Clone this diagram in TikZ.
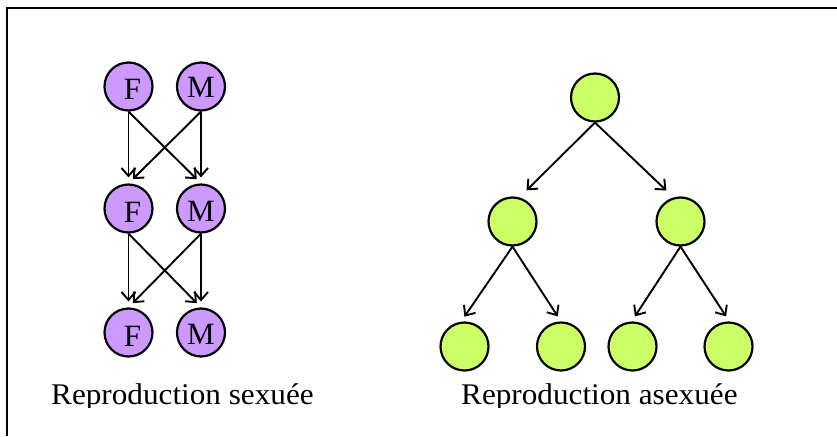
\documentclass[tikz,border=0pt]{standalone}
\usepackage{fontspec}
\setmainfont{Liberation Serif}
\usetikzlibrary{arrows.meta}
\definecolor{purp}{RGB}{204,153,255}
\definecolor{lime}{RGB}{204,255,102}
\tikzset{
  cell/.style={circle, draw=black, line width=2.2pt, minimum size=48pt, inner sep=0pt},
  sexcell/.style={cell, fill=purp},
  asexcell/.style={cell, fill=lime},
  letter/.style={font=\fontsize{31}{31}\selectfont},
  arr/.style={line width=1.9pt, -{Straight Barb[length=8pt,width=14pt,line width=1.9pt]}},
  caption/.style={anchor=base west, inner sep=0pt, font=\fontsize{30}{30}\selectfont}
}
\begin{document}
\begin{tikzpicture}[x=1pt,y=-1pt]
\useasboundingbox (0,0) rectangle (837,436);
% frame (top and left only)
\draw[line width=2.2pt] (7,436) -- (7,8) -- (837,8);

% sexual reproduction
\node[sexcell, label={[letter, shift={(4,3)}]center:F}] (f1) at (128.5,86.5) {};
\node[sexcell, label={[letter, shift={(0,1)}]center:M}] (m1) at (201,86.5) {};
\node[sexcell, label={[letter, shift={(4,4)}]center:F}] (f2) at (128.5,208.5) {};
\node[sexcell, label={[letter, shift={(0,3)}]center:M}] (m2) at (201,208.5) {};
\node[sexcell, label={[letter, shift={(4,4)}]center:F}] (f3) at (128.5,332.5) {};
\node[sexcell, label={[letter, shift={(0,2)}]center:M}] (m3) at (201,332.5) {};

\draw[arr, shorten >=6pt] (f1.south) -- (f2.north);
\draw[arr, shorten >=6pt] (f1.south) -- (m2.north);
\draw[arr, shorten >=6pt] (m1.south) -- (m2.north);
\draw[arr, shorten >=6pt] (m1.south) -- (f2.north);
\draw[arr, shorten >=6pt] (f2.south) -- (f3.north);
\draw[arr, shorten >=6pt] (f2.south) -- (m3.north);
\draw[arr, shorten >=6pt] (m2.south) -- (m3.north);
\draw[arr, shorten >=6pt] (m2.south) -- (f3.north);

% asexual reproduction
\node[asexcell] (r) at (595,97.5) {};
\node[asexcell] (a) at (512.5,221.5) {};
\node[asexcell] (b) at (680.5,221.5) {};
\node[asexcell] (c) at (464.5,346.5) {};
\node[asexcell] (d) at (561,346.5) {};
\node[asexcell] (e) at (632.5,346.5) {};
\node[asexcell] (g) at (728.5,346.5) {};

\draw[arr, shorten >=10pt] (r.south) -- (a.74);
\draw[arr, shorten >=10pt] (r.south) -- (b.106);
\draw[arr, shorten >=6pt] (a.south) -- (c.98);
\draw[arr, shorten >=6pt] (a.south) -- (d.north);
\draw[arr, shorten >=6pt] (b.south) -- (e.92);
\draw[arr, shorten >=6pt] (b.south) -- (g.88);

% captions (descenders clipped as in the original)
\begin{scope}
\clip (0,0) rectangle (837,407);
\node[caption] (t1) at (51,404) {\scalebox{1.04}[1]{Reproduction sexuée}};
\node[caption] (t2) at (461,404) {\scalebox{1.04}[1]{Reproduction asexuée}};
\end{scope}
\end{tikzpicture}
\end{document}
